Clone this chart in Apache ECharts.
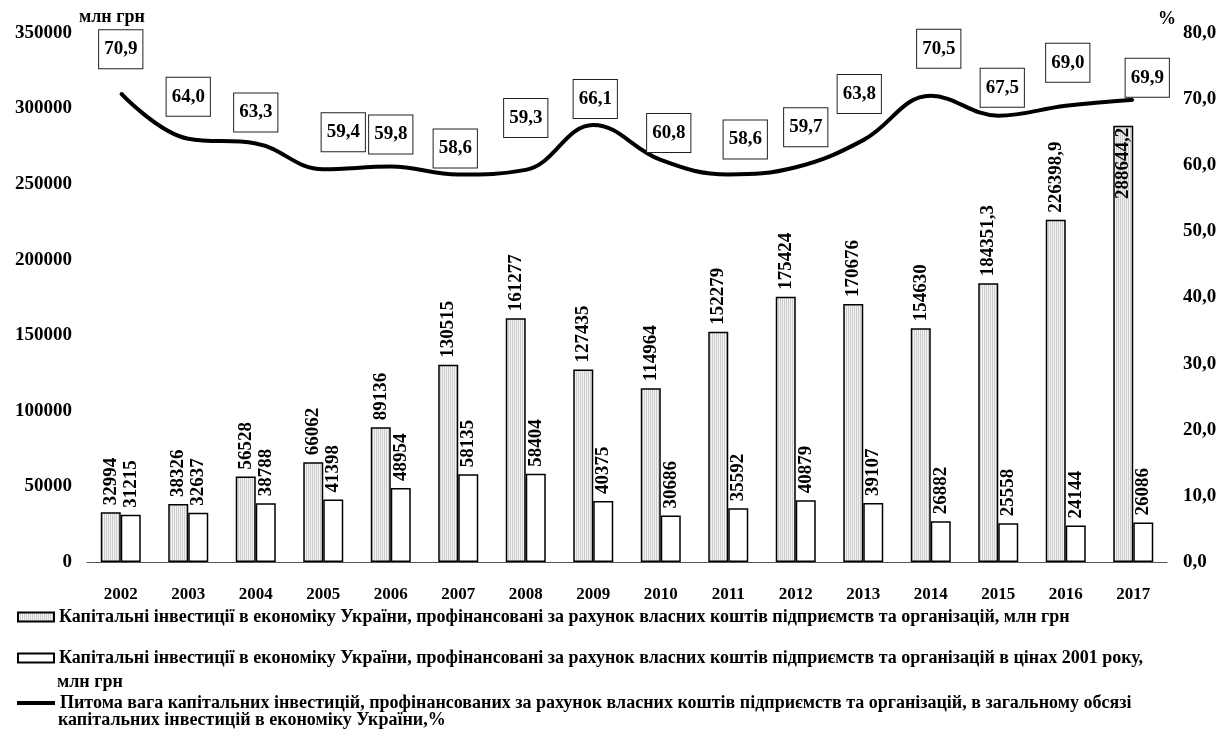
<!DOCTYPE html>
<html>
<head>
<meta charset="utf-8">
<script src="https://cdn.jsdelivr.net/npm/echarts@6/dist/echarts.min.js"></script>
<style>html,body{margin:0;padding:0;background:#fff}#main{width:1224px;height:736px}</style>
</head>
<body>
<div id="main"></div>
<script>
var years = ['2002','2003','2004','2005','2006','2007','2008','2009','2010','2011','2012','2013','2014','2015','2016','2017'];
var ownFunds = [32994, 38326, 56528, 66062, 89136, 130515, 161277, 127435, 114964, 152279, 175424, 170676, 154630, 184351.3, 226398.9, 288644.2];
var ownFunds2001 = [31215, 32637, 38788, 41398, 48954, 58135, 58404, 40375, 30686, 35592, 40879, 39107, 26882, 25558, 24144, 26086];
var sharePct = [70.9, 64.0, 63.3, 59.4, 59.8, 58.6, 59.3, 66.1, 60.8, 58.6, 59.7, 63.8, 70.5, 67.5, 69.0, 69.9];

// where each boxed % label sits (x nudge, gap above the line)
var shareLabelDx = [0, 0, 0, 20, 0, -3, 0, 2, 8, 17, 10, -4, 8, 4, 2, 14];
var shareLabelGap = [24, 22, 11, 17, 12, 6, 32, 6, 7, 15, 20, 26, 27, 8, 23, 2];

var name1 = 'Капітальні інвестиції в економіку України, профінансовані за рахунок власних коштів підприємств та організацій, млн грн';
var name2 = 'Капітальні інвестиції в економіку України, профінансовані за рахунок власних коштів підприємств та організацій в цінах 2001 року,';
var name2more = 'млн грн';
var name3 = 'Питома вага капітальних інвестицій, профінансованих за рахунок власних коштів підприємств та організацій, в загальному обсязі';
var name3more = 'капітальних інвестицій в економіку України,%';

var serif = '"Liberation Serif", "Times New Roman", serif';

function stipple() {
    var c = document.createElement('canvas');
    c.width = 2; c.height = 2;
    var ctx = c.getContext('2d');
    ctx.fillStyle = '#f3f3f3';
    ctx.fillRect(0, 0, 2, 2);
    ctx.fillStyle = '#cdcdcd';
    ctx.fillRect(0, 0, 1, 2);
    return c;
}

function comma(v) {
    return String(v).replace('.', ',');
}

var txt = {fontFamily: serif, fontWeight: 'bold', color: '#000'};
var legendText = {fontFamily: serif, fontWeight: 'bold', fontSize: 18, color: '#000'};

var barLabel = {
    show: true, position: 'top', rotate: 90, align: 'left', verticalAlign: 'middle',
    distance: 7, fontFamily: serif, fontWeight: 'bold', fontSize: 19, color: '#000',
    formatter: function (p) { return comma(p.value); }
};

var chart = echarts.init(document.getElementById('main'));
chart.setOption({
    animation: false,
    backgroundColor: '#fff',
    grid: {left: 87, right: 57, top: 33, bottom: 174, outerBoundsMode: 'none'},
    legend: [
        {
            data: [{name: name1, icon: 'rect'}], left: 17, top: 608, padding: 0,
            itemWidth: 36, itemHeight: 9, textStyle: legendText
        },
        {
            data: [{name: name2, icon: 'rect'}], left: 17, top: 649, padding: 0,
            itemWidth: 36, itemHeight: 9, textStyle: legendText
        },
        {
            data: [{name: name3, icon: 'rect'}], left: 17, top: 694, padding: 0,
            itemWidth: 38, itemHeight: 4, textStyle: legendText
        }
    ],
    graphic: [
        {type: 'text', left: 57, top: 673, style: Object.assign({text: name2more}, legendText, {fill: '#000'})},
        {type: 'text', left: 58, top: 711, style: Object.assign({text: name3more}, legendText, {fill: '#000'})}
    ],
    xAxis: {
        type: 'category',
        data: years,
        axisTick: {show: false},
        axisLine: {lineStyle: {color: '#555', width: 1}},
        axisLabel: Object.assign({fontSize: 17, margin: 24}, txt)
    },
    yAxis: [
        {
            type: 'value', min: 0, max: 350000, interval: 50000,
            name: 'млн грн', nameLocation: 'end', nameGap: 7,
            nameTextStyle: Object.assign({fontSize: 18, align: 'left', padding: [0, 0, 0, -8]}, txt),
            splitLine: {show: false},
            axisLine: {show: false}, axisTick: {show: false},
            axisLabel: Object.assign({fontSize: 19, margin: 15, formatter: function (v) { return String(v); }}, txt)
        },
        {
            type: 'value', min: 0, max: 80, interval: 10,
            name: '%', nameLocation: 'end', nameGap: 5,
            nameTextStyle: Object.assign({fontSize: 18}, txt),
            splitLine: {show: false},
            axisLine: {show: false}, axisTick: {show: false},
            axisLabel: Object.assign({fontSize: 19, margin: 16, formatter: function (v) { return v.toFixed(1).replace('.', ','); }}, txt)
        }
    ],
    series: [
        {
            name: name1,
            type: 'bar',
            barWidth: 20,
            barGap: '0%',
            itemStyle: {color: {image: stipple(), repeat: 'repeat'}, borderColor: '#000', borderWidth: 1.5},
            label: barLabel,
            data: ownFunds.map(function (v, i) {
                if (i === ownFunds.length - 1) {
                    return {value: v, label: {position: 'insideTop', align: 'right', distance: 2}};
                }
                return v;
            })
        },
        {
            name: name2,
            type: 'bar',
            barWidth: 20,
            itemStyle: {color: '#fff', borderColor: '#000', borderWidth: 1.5},
            label: barLabel,
            data: ownFunds2001
        },
        {
            name: name3,
            type: 'line',
            yAxisIndex: 1,
            smooth: 0.4,
            symbol: 'circle',
            symbolSize: 2,
            showSymbol: true,
            z: 5,
            lineStyle: {color: '#000', width: 4},
            itemStyle: {color: '#000'},
            label: {
                show: true, position: 'top',
                fontFamily: serif, fontWeight: 'bold', fontSize: 19, color: '#000',
                backgroundColor: '#fff', borderColor: '#222', borderWidth: 1,
                padding: [9, 5, 9, 5], lineHeight: 20,
                formatter: function (p) { return p.value.toFixed(1).replace('.', ','); }
            },
            data: sharePct.map(function (v, i) {
                return {value: v, label: {distance: shareLabelGap[i], offset: [shareLabelDx[i], 0]}};
            })
        }
    ]
});
</script>
</body>
</html>
